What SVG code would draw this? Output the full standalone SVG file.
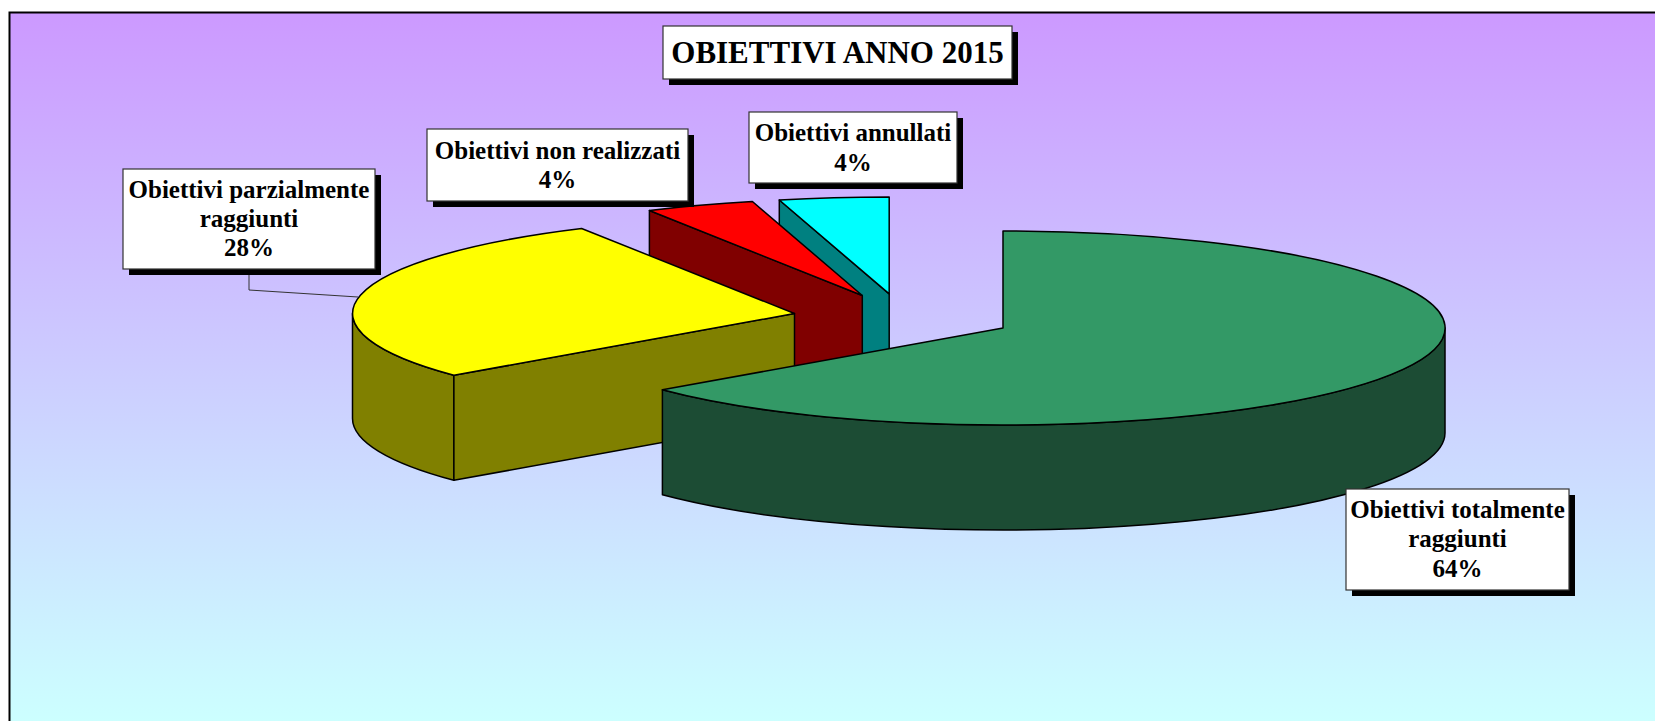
<svg xmlns="http://www.w3.org/2000/svg" width="1655" height="721" viewBox="0 0 1655 721">
  <defs>
    <linearGradient id="bg" x1="0" y1="12" x2="0" y2="721" gradientUnits="userSpaceOnUse">
      <stop offset="0" stop-color="#CC99FF"/>
      <stop offset="1" stop-color="#CCFFFF"/>
    </linearGradient>
  </defs>
  <style>
    .edge { stroke: #000; stroke-width: 1.5; stroke-linejoin: round; }
    .box { fill: #FFFFFF; stroke: #333; stroke-width: 1.2; }
    .shadow { fill: #000; }
    .lbl { font-family: "Liberation Serif", "Times New Roman", serif; font-weight: bold; font-size: 25px; fill: #000; text-anchor: middle; }
    .title { font-family: "Liberation Serif", "Times New Roman", serif; font-weight: bold; font-size: 31px; fill: #000; text-anchor: middle; }
    .leader { fill: none; stroke: #333; stroke-width: 1; }
  </style>

  <rect x="0" y="0" width="1655" height="721" fill="#FFFFFF"/>
  <rect id="frame" x="9.5" y="12.5" width="1650" height="715" fill="url(#bg)" stroke="#000" stroke-width="2"/>

  <!-- cyan slice: Obiettivi annullati -->
  <g id="slice-annullati">
    <path class="edge" fill="#008080" d="M779.3,200 L889.2,293.9 L889.2,398.9 L779.3,305 Z"/>
    <path class="edge" fill="#00FFFF" d="M889.2,293.9 L779.3,200 A442,97 0 0 1 889.2,196.9 Z"/>
  </g>

  <!-- red slice: Obiettivi non realizzati -->
  <g id="slice-non-realizzati">
    <path class="edge" fill="#800000" d="M649.4,210.5 L862.3,295.5 L862.3,400.5 L649.4,315.5 Z"/>
    <path class="edge" fill="#FF0000" d="M862.3,295.5 L649.4,210.5 A442,97 0 0 1 752.4,201.5 Z"/>
  </g>

  <!-- yellow slice: Obiettivi parzialmente raggiunti -->
  <g id="slice-parzialmente">
    <path class="edge" fill="#808000" d="M352.5,313.5 A442,97 0 0 0 453.9,375.3 L453.9,480.3 A442,97 0 0 1 352.5,418.5 Z"/>
    <path class="edge" fill="#808000" d="M453.9,375.3 L794.5,313.5 L794.5,418.5 L453.9,480.3 Z"/>
    <path class="edge" fill="#FFFF00" d="M794.5,313.5 L453.9,375.3 A442,97 0 0 1 581.6,228.5 Z"/>
  </g>

  <!-- green slice: Obiettivi totalmente raggiunti -->
  <g id="slice-totalmente">
    <path class="edge" fill="#1C4C34" d="M1445,328 A442,97 0 0 1 662.4,389.8 L662.4,494.8 A442,97 0 0 0 1445,433 Z"/>
    <path class="edge" fill="#339966" d="M1003,328 L1003,231 A442,97 0 1 1 662.4,389.8 Z"/>
  </g>

  <!-- connectors -->
  <g id="connectors">
    <polyline class="leader" points="249,269 249,290 358,297"/>
  </g>

  <!-- title -->
  <g id="title">
    <rect class="shadow" x="669" y="32" width="349" height="53"/>
    <rect class="box" x="663" y="26" width="349" height="53"/>
    <text class="title" x="837.5" y="63">OBIETTIVI ANNO 2015</text>
  </g>

  <g id="label-parzialmente">
    <rect class="shadow" x="129" y="175" width="252" height="100"/>
    <rect class="box" x="123" y="169" width="252" height="100"/>
    <text class="lbl" x="249" y="198">Obiettivi parzialmente</text>
    <text class="lbl" x="249" y="227">raggiunti</text>
    <text class="lbl" x="249" y="256">28%</text>
  </g>

  <g id="label-non-realizzati">
    <rect class="shadow" x="433" y="135" width="261" height="72"/>
    <rect class="box" x="427" y="129" width="261" height="72"/>
    <text class="lbl" x="557.5" y="159">Obiettivi non realizzati</text>
    <text class="lbl" x="557.5" y="188">4%</text>
  </g>

  <g id="label-annullati">
    <rect class="shadow" x="755" y="118" width="208" height="71"/>
    <rect class="box" x="749" y="112" width="208" height="71"/>
    <text class="lbl" x="853" y="141">Obiettivi annullati</text>
    <text class="lbl" x="853" y="171">4%</text>
  </g>

  <g id="label-totalmente">
    <rect class="shadow" x="1352" y="495" width="223" height="101"/>
    <rect class="box" x="1346" y="489" width="223" height="101"/>
    <text class="lbl" x="1457.5" y="518">Obiettivi totalmente</text>
    <text class="lbl" x="1457.5" y="547">raggiunti</text>
    <text class="lbl" x="1457.5" y="577">64%</text>
  </g>
</svg>
